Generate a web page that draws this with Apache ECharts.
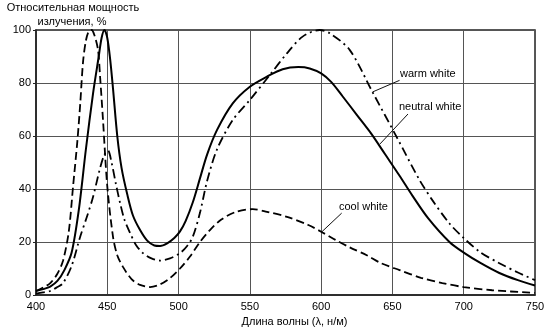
<!DOCTYPE html>
<html>
<head>
<meta charset="utf-8">
<script src="https://cdn.jsdelivr.net/npm/echarts@6/dist/echarts.min.js"></script>
<style>
html,body{margin:0;padding:0;background:#fff;}
#c{width:550px;height:328px;}
</style>
</head>
<body>
<div id="c"></div>
<script>
var xTicks = [400, 450, 500, 550, 600, 650, 700, 750];
var yTicks = [0, 20, 40, 60, 80, 100];

var neutralX = [400,405,410,415,420,425,430,435,440,444,446,448,450,452,454,457,460,464,468,473,478,483,487,492,497,501,505,510,515,520,527,538,550,562,573,584,592,600,607,615,625,635,645,655,664,675,690,700,712,725,738,750];
var neutralY = [1.5,2.2,3.2,5.3,9.5,16,32,55,76,90,97,100,97,89,78,60,48,38,30,24.5,20.5,18.7,18.5,19.5,21.5,24,28,35,44,53,62.3,72.3,78.6,82.4,85.2,86,85.5,83.6,80.4,75,68,61,53,45,37.5,29,20,16,12,8.3,5.6,3.6];

var warmX = [400,405,410,415,419,425,431,436,440,445,448,450.5,453,456,459,462,466,470,475,481,487,494,501,506,510,515,520,527,538,550,564,576,587,599,606,620,636,653,669,678,690,700,712,725,738,750];
var warmY = [0.5,1,1.5,3,4.5,11,22,30,37,48,53,54.5,50,42,34.7,28.5,23.4,19,15.8,13.8,13,13.8,15.8,18.5,22,31,43,55,66,73.6,83,91.2,97.5,100,98.8,92.5,76.6,59.6,43.4,35.8,27,21.5,16,12,8.5,5.6];

var coolX = [400,405,410,415,419,423,426,429,431,433,435,437,439,441,443.5,445,447,450,454,457,461,467,473,480,487,494,501,508,515,522,530,540,552,562,576,591,600,610,620,632,642,655,670,685,700,720,750];
var coolY = [1.5,2.8,4.5,8,13,24,41,58,72,88,96,99.5,100,98,92.5,82,66,41,22,15,10.6,6,3.8,3,4,6.4,10,14.5,20,24.5,28.5,31.3,32.4,31.4,29.5,26.4,23.9,20.8,18,15,12,9.4,6.5,4.5,3,1.8,0.8];

var labels = [
  {text: 'warm white',    from: [636, 76.6], to: [655, 81.0],   at: [655.3, 83.4]},
  {text: 'neutral white', from: [641.3, 57], to: [660.9, 68.3], at: [654.6, 71]},
  {text: 'cool white',    from: [600.6, 23.9], to: [614.4, 30.9], at: [612.5, 33.3]}
];

function pairs(xs, ys){ return xs.map(function(x,i){ return [x, ys[i]]; }); }

var FONT = 'Liberation Sans, Arial, sans-serif';
var chart = echarts.init(document.getElementById('c'), null, {renderer: 'canvas'});

var option = {
  animation: false,
  backgroundColor: '#fff',
  grid: {left: 36, right: 15, top: 30, bottom: 33, show: true, borderColor: '#222', borderWidth: 1.5},
  xAxis: {
    type: 'value', min: xTicks[0], max: xTicks[xTicks.length-1], interval: 50,
    axisLine: {show: true, lineStyle: {color: '#222', width: 1.5}},
    axisTick: {show: false},
    axisLabel: {color: '#000', fontSize: 11, fontFamily: FONT, margin: 6},
    splitLine: {show: true, lineStyle: {color: '#555', width: 1}}
  },
  yAxis: {
    type: 'value', min: yTicks[0], max: yTicks[yTicks.length-1], interval: 20,
    axisLine: {show: true, lineStyle: {color: '#222', width: 1.5}},
    axisTick: {show: true, length: 3, lineStyle: {color: '#222'}},
    axisLabel: {color: '#000', fontSize: 11, fontFamily: FONT, margin: 5},
    splitLine: {show: true, lineStyle: {color: '#555', width: 1}}
  },
  series: [
    {name: 'neutral white', type: 'line', data: pairs(neutralX, neutralY), showSymbol: false, smooth: 0.3,
     lineStyle: {color: '#000', width: 2}},
    {name: 'warm white', type: 'line', data: pairs(warmX, warmY), showSymbol: false, smooth: 0.3,
     lineStyle: {color: '#000', width: 1.8, type: [9, 4, 2, 4]}},
    {name: 'cool white', type: 'line', data: pairs(coolX, coolY), showSymbol: false, smooth: 0.3,
     lineStyle: {color: '#000', width: 1.8, type: [8, 4]}}
  ]
};
chart.setOption(option);

var g = [
  {type: 'text', style: {text: 'Относительная мощность', x: 73, y: 8, textAlign: 'center', textVerticalAlign: 'middle', fill: '#000', font: '11px ' + FONT}},
  {type: 'text', style: {text: 'излучения, %', x: 72, y: 22, textAlign: 'center', textVerticalAlign: 'middle', fill: '#000', font: '11px ' + FONT}},
  {type: 'text', style: {text: 'Длина волны (λ, н/м)', x: 294.5, y: 322, textAlign: 'center', textVerticalAlign: 'middle', fill: '#000', font: '11px ' + FONT}}
];
labels.forEach(function(l){
  var a = chart.convertToPixel({gridIndex: 0}, l.from);
  var b = chart.convertToPixel({gridIndex: 0}, l.to);
  var t = chart.convertToPixel({gridIndex: 0}, l.at);
  g.push({type: 'line', shape: {x1: a[0], y1: a[1], x2: b[0], y2: b[1]}, style: {stroke: '#111', lineWidth: 1}});
  g.push({type: 'text', style: {text: l.text, x: t[0], y: t[1], textAlign: 'left', textVerticalAlign: 'middle', fill: '#000', font: '11px ' + FONT}});
});
chart.setOption({graphic: g});
</script>
</body>
</html>
